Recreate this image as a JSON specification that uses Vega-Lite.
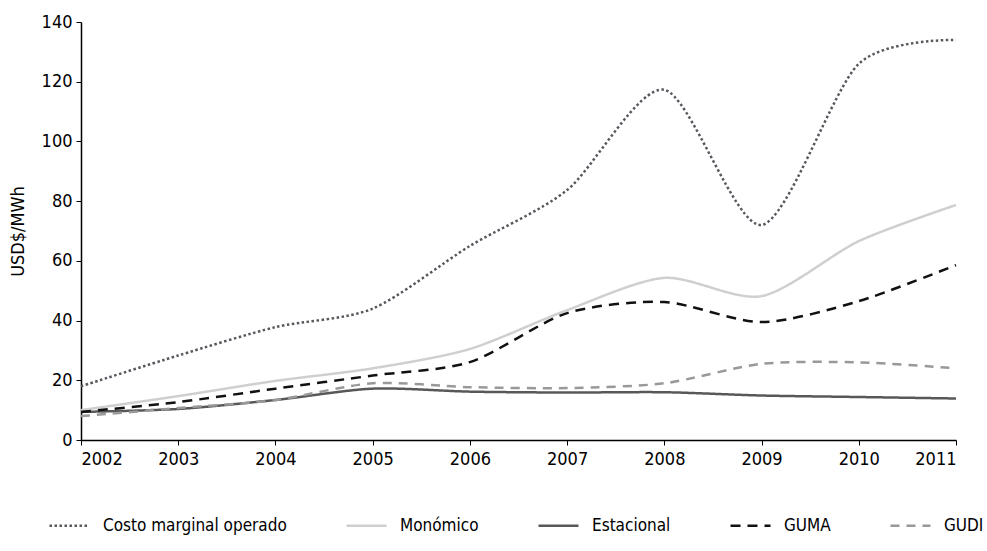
{
  "$schema": "https://vega.github.io/schema/vega-lite/v6.json",
  "width": 875,
  "height": 418,
  "autosize": {"type": "none"},
  "padding": {"left": 81, "top": 22, "right": 31, "bottom": 111},
  "background": "white",
  "config": {
    "view": {"stroke": null},
    "font": "DejaVu Sans Condensed",
    "axis": {"labelFont": "DejaVu Sans Condensed", "titleFont": "DejaVu Sans Condensed", "grid": false, "domainColor": "black", "tickColor": "black", "labelColor": "black", "titleColor": "black"},
    "legend": {"labelFont": "DejaVu Sans Condensed"}
  },
  "data": {
    "values": [
      {"year": 2002, "serie": "Costo marginal operado", "v": 18},
      {"year": 2003, "serie": "Costo marginal operado", "v": 28.3},
      {"year": 2004, "serie": "Costo marginal operado", "v": 37.8},
      {"year": 2005, "serie": "Costo marginal operado", "v": 44},
      {"year": 2006, "serie": "Costo marginal operado", "v": 65},
      {"year": 2007, "serie": "Costo marginal operado", "v": 83.7},
      {"year": 2008, "serie": "Costo marginal operado", "v": 117.3},
      {"year": 2009, "serie": "Costo marginal operado", "v": 72},
      {"year": 2010, "serie": "Costo marginal operado", "v": 126},
      {"year": 2011, "serie": "Costo marginal operado", "v": 134},
      {"year": 2002, "serie": "Monómico", "v": 10},
      {"year": 2003, "serie": "Monómico", "v": 14.7},
      {"year": 2004, "serie": "Monómico", "v": 19.8},
      {"year": 2005, "serie": "Monómico", "v": 24},
      {"year": 2006, "serie": "Monómico", "v": 30.5},
      {"year": 2007, "serie": "Monómico", "v": 43.5},
      {"year": 2008, "serie": "Monómico", "v": 54.3},
      {"year": 2009, "serie": "Monómico", "v": 48.2},
      {"year": 2010, "serie": "Monómico", "v": 66.6},
      {"year": 2011, "serie": "Monómico", "v": 78.7},
      {"year": 2002, "serie": "Estacional", "v": 9.4},
      {"year": 2003, "serie": "Estacional", "v": 10.4},
      {"year": 2004, "serie": "Estacional", "v": 13.4},
      {"year": 2005, "serie": "Estacional", "v": 17.2},
      {"year": 2006, "serie": "Estacional", "v": 16.2},
      {"year": 2007, "serie": "Estacional", "v": 15.9},
      {"year": 2008, "serie": "Estacional", "v": 16},
      {"year": 2009, "serie": "Estacional", "v": 14.9},
      {"year": 2010, "serie": "Estacional", "v": 14.4},
      {"year": 2011, "serie": "Estacional", "v": 13.9},
      {"year": 2002, "serie": "GUMA", "v": 9.4},
      {"year": 2003, "serie": "GUMA", "v": 12.7},
      {"year": 2004, "serie": "GUMA", "v": 17.2},
      {"year": 2005, "serie": "GUMA", "v": 21.6},
      {"year": 2006, "serie": "GUMA", "v": 26.1},
      {"year": 2007, "serie": "GUMA", "v": 42.5},
      {"year": 2008, "serie": "GUMA", "v": 46.2},
      {"year": 2009, "serie": "GUMA", "v": 39.5},
      {"year": 2010, "serie": "GUMA", "v": 46.5},
      {"year": 2011, "serie": "GUMA", "v": 58.6},
      {"year": 2002, "serie": "GUDI", "v": 8},
      {"year": 2003, "serie": "GUDI", "v": 10.7},
      {"year": 2004, "serie": "GUDI", "v": 13.4},
      {"year": 2005, "serie": "GUDI", "v": 19},
      {"year": 2006, "serie": "GUDI", "v": 17.7},
      {"year": 2007, "serie": "GUDI", "v": 17.4},
      {"year": 2008, "serie": "GUDI", "v": 19},
      {"year": 2009, "serie": "GUDI", "v": 25.5},
      {"year": 2010, "serie": "GUDI", "v": 26},
      {"year": 2011, "serie": "GUDI", "v": 24}
    ]
  },
  "mark": {"type": "line", "interpolate": "cardinal", "tension": 0.2, "strokeWidth": 2.5},
  "encoding": {
    "x": {
      "field": "year", "type": "quantitative",
      "scale": {"domain": [2002, 2011], "nice": false, "zero": false},
      "axis": {"values": [2002, 2003, 2004, 2005, 2006, 2007, 2008, 2009, 2010, 2011], "format": "d", "title": null, "labelFontSize": 18, "tickSize": 5, "labelPadding": 5, "domainWidth": 1.5}
    },
    "y": {
      "field": "v", "type": "quantitative",
      "scale": {"domain": [0, 140], "nice": false},
      "axis": {"values": [0, 20, 40, 60, 80, 100, 120, 140], "title": "USD$/MWh", "titleFontSize": 18, "titleFontWeight": "normal", "titlePadding": 14, "labelFontSize": 18, "tickSize": 5, "labelPadding": 4, "domainWidth": 1.5}
    },
    "color": {
      "field": "serie", "type": "nominal",
      "sort": ["Costo marginal operado", "Monómico", "Estacional", "GUMA", "GUDI"],
      "scale": {"domain": ["Costo marginal operado", "Monómico", "Estacional", "GUMA", "GUDI"], "range": ["#55585d", "#cfcfcf", "#58585a", "#111111", "#999999"]},
      "legend": {"orient": "none", "legendX": -33, "legendY": 482, "direction": "horizontal", "title": null, "columns": 5, "labelFontSize": 17, "labelColor": "black", "symbolType": "stroke", "symbolSize": 1600, "symbolStrokeWidth": 2.5, "columnPadding": 54, "labelOffset": 12, "labelLimit": 300}
    },
    "strokeDash": {
      "field": "serie", "type": "nominal",
      "sort": ["Costo marginal operado", "Monómico", "Estacional", "GUMA", "GUDI"],
      "scale": {"domain": ["Costo marginal operado", "Monómico", "Estacional", "GUMA", "GUDI"], "range": [[2.5, 2.5], [1, 0], [1, 0], [10, 7], [9, 7]]},
      "legend": null
    }
  }
}
